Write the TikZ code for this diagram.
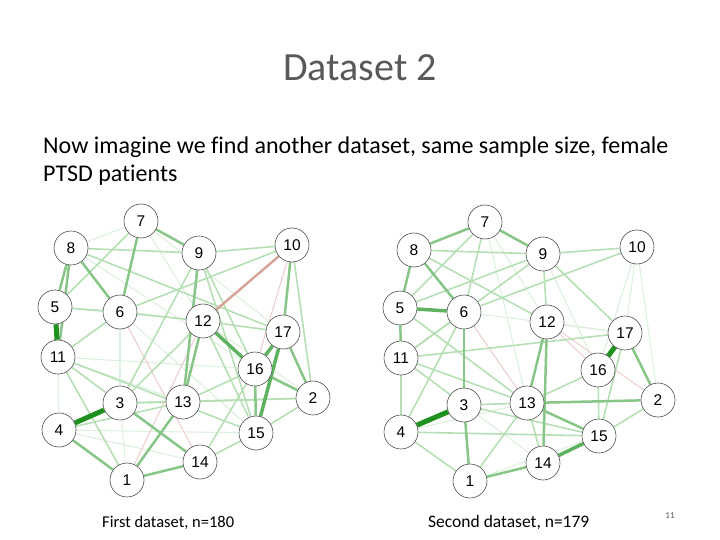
\documentclass[tikz,border=0pt]{standalone}
\usepackage{fontspec}
\setmainfont{Carlito}[Ligatures={NoCommon}]
\newfontfamily\nodefont{Liberation Sans}
\usetikzlibrary{backgrounds}
\definecolor{titlegray}{RGB}{89,89,89}
\definecolor{gA}{RGB}{30,145,30}
\definecolor{gB}{RGB}{95,178,95}
\definecolor{gC}{RGB}{135,198,135}
\definecolor{gD}{RGB}{182,223,182}
\definecolor{gE}{RGB}{222,240,222}
\definecolor{rA}{RGB}{215,165,155}
\definecolor{rB}{RGB}{236,208,208}
\tikzset{
  vnode/.style={circle,draw=black!70,line width=0.6pt,fill=white,minimum size=34pt,inner sep=0pt,font=\nodefont\fontsize{15.5}{15.5}\selectfont},
  e5/.style={draw=gA,line width=5pt},
  e4/.style={draw=gB,line width=3.5pt},
  e3/.style={draw=gC,line width=2.5pt},
  e2/.style={draw=gD,line width=1.6pt},
  e1/.style={draw=gE,line width=1.1pt},
  r3/.style={draw=rA,line width=2.5pt},
  r1/.style={draw=rB,line width=1.1pt},
}
\begin{document}
\begin{tikzpicture}[x=1pt,y=-1pt]
\useasboundingbox (0,0) rectangle (720,540);
% texts
\node[anchor=base,font=\fontsize{40}{40}\selectfont,text=titlegray,inner sep=0pt] (title) at (360,81) {Dataset 2};
\node[anchor=base west,font=\fontsize{24}{28}\selectfont,inner sep=0pt] (body1) at (43,154) {Now imagine we find another dataset, same sample size, female};
\node[anchor=base west,font=\fontsize{24}{28}\selectfont,inner sep=0pt] (body2) at (43,182) {PTSD patients};
\node[anchor=base west,font=\fontsize{16.5}{16.5}\selectfont,inner sep=0pt] (cap1) at (102,527) {First dataset, n=180};
\node[anchor=base west,font=\fontsize{17.5}{17.5}\selectfont,inner sep=0pt] (cap2) at (428,527) {Second dataset, n=179};
\node[anchor=base,font=\fontsize{9}{9}\selectfont,text=titlegray,inner sep=0pt] (pnum) at (670,518) {11};
% left network nodes
\foreach \n/\x/\y in {7/141/221,8/71/248,9/199/253,10/292/245,5/55/307,6/120/312,12/203/321,17/283/332,11/58/357,16/255/369,3/120/403,13/183/402,2/313/398,4/59/430,15/256/433,14/200/462,1/127/480}
  \node[vnode] (L\n) at (\x,\y) {\n};
% right network nodes
\foreach \n/\x/\y in {7/485/222,8/414/250,9/543/254,10/637/247,5/400/308,6/464/312,12/547/322,17/625/333,11/401/358,16/598/370,3/464/405,13/527/403,2/658/400,4/401/432,15/599/436,14/543/463,1/470/481}
  \node[vnode] (R\n) at (\x,\y) {\n};
\begin{scope}[on background layer]
% left edges
\foreach \a/\b in {8/16,11/13,4/11,7/12,6/15,6/3,1/3,4/14,11/16,5/12,7/17,12/2,4/15,7/8}
  \draw[e1] (L\a) -- (L\b);
\foreach \a/\b in {8/6,6/14,1/12,10/16}
  \draw[r1] (L\a) -- (L\b);
\foreach \a/\b in {9/10,10/2,5/6,6/12,6/11,11/1,3/9,3/12,13/16,14/16,14/15,15/2,3/13,9/15,8/9,7/5,8/17,11/3,11/15,13/2,3/2,12/15,9/16,6/10,4/13,12/17}
  \draw[e2] (L\a) -- (L\b);
\foreach \a/\b in {8/5,8/11,7/6,7/9,3/14,4/1,1/13,1/14,12/13,9/13,10/17,15/16,16/2,17/2,6/8}
  \draw[e3] (L\a) -- (L\b);
\draw[r3] (L10) -- (L12);
\foreach \a/\b in {17/16,17/15,12/16}
  \draw[e4] (L\a) -- (L\b);
\foreach \a/\b in {5/11,4/3}
  \draw[e5] (L\a) -- (L\b);
% right edges
\foreach \a/\b in {10/2,10/16,10/17,7/12,7/13,3/14,4/13,9/16,6/17,12/17,1/15}
  \draw[e1] (R\a) -- (R\b);
\foreach \a/\b in {6/13,12/2,12/16}
  \draw[r1] (R\a) -- (R\b);
\foreach \a/\b in {2/15,13/16,15/17,8/12,9/12,9/10,6/10,5/9,4/15,4/1,4/11,11/6,11/9,3/13,1/13,5/13,13/14,8/9,7/6,7/5,11/17,4/6,16/15,11/3,11/13,9/17,3/15}
  \draw[e2] (R\a) -- (R\b);
\foreach \a/\b in {5/11,17/2,7/9,8/7,8/5,6/3,3/1,12/13,12/14,13/2,13/15,1/14,8/6}
  \draw[e3] (R\a) -- (R\b);
\foreach \a/\b in {5/6,14/15}
  \draw[e4] (R\a) -- (R\b);
\foreach \a/\b in {4/3,17/16}
  \draw[e5] (R\a) -- (R\b);
\end{scope}
\end{tikzpicture}
\end{document}
